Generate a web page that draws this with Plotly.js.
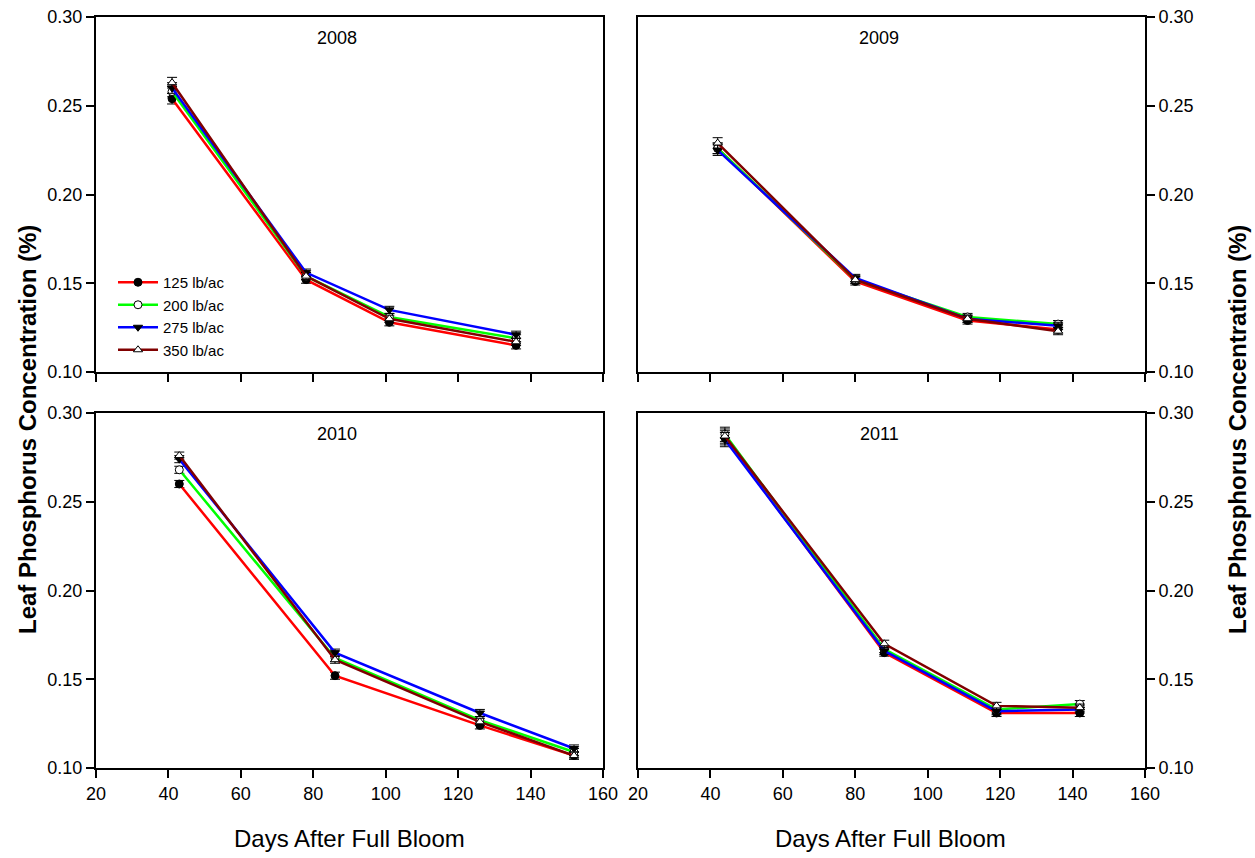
<!DOCTYPE html>
<html>
<head>
<meta charset="utf-8">
<script src="https://cdn.plot.ly/plotly-3.0.1.min.js"></script>
<style>html,body{margin:0;padding:0;background:#fff;}#chart{width:1255px;height:858px;}</style>
</head>
<body>
<div id="chart"></div>
<script>
// ---- data ----
const seriesNames = ["125 lb/ac", "200 lb/ac", "275 lb/ac", "350 lb/ac"];
const years = ["2008", "2009", "2010", "2011"];
const xTicks = [20, 40, 60, 80, 100, 120, 140, 160];
const yTicks = [0.10, 0.15, 0.20, 0.25, 0.30];

const days2008 = [41, 78, 101, 136];
const p2008_125 = [0.254, 0.152, 0.128, 0.115];
const p2008_200 = [0.258, 0.154, 0.131, 0.119];
const p2008_275 = [0.260, 0.156, 0.135, 0.121];
const p2008_350 = [0.263, 0.154, 0.130, 0.117];
const err2008 = [0.003, 0.002, 0.002, 0.002];

const days2009 = [42, 80, 111, 136];
const p2009_125 = [0.226, 0.151, 0.129, 0.124];
const p2009_200 = [0.226, 0.152, 0.131, 0.127];
const p2009_275 = [0.225, 0.153, 0.130, 0.126];
const p2009_350 = [0.229, 0.152, 0.130, 0.123];
const err2009 = [0.003, 0.002, 0.002, 0.002];

const days2010 = [43, 86, 126, 152];
const p2010_125 = [0.260, 0.152, 0.124, 0.107];
const p2010_200 = [0.268, 0.162, 0.127, 0.109];
const p2010_275 = [0.274, 0.165, 0.131, 0.111];
const p2010_350 = [0.276, 0.161, 0.126, 0.107];
const err2010 = [0.002, 0.002, 0.002, 0.002];

const days2011 = [44, 88, 119, 142];
const p2011_125 = [0.286, 0.165, 0.131, 0.131];
const p2011_200 = [0.288, 0.167, 0.133, 0.136];
const p2011_275 = [0.285, 0.166, 0.132, 0.133];
const p2011_350 = [0.287, 0.170, 0.135, 0.134];
const err2011 = [0.004, 0.002, 0.002, 0.002];

// ---- styles ----
const lineColors = ["#ff0000", "#00ff00", "#0000ff", "#800000"];
const markerSyms = ["circle", "circle", "triangle-down", "triangle-up"];
const markerFill = ["#000000", "#ffffff", "#000000", "#ffffff"];

const panels = [
  {days: days2008, vals: [p2008_125, p2008_200, p2008_275, p2008_350], err: err2008, xa: "x", ya: "y"},
  {days: days2009, vals: [p2009_125, p2009_200, p2009_275, p2009_350], err: err2009, xa: "x2", ya: "y2"},
  {days: days2010, vals: [p2010_125, p2010_200, p2010_275, p2010_350], err: err2010, xa: "x3", ya: "y3"},
  {days: days2011, vals: [p2011_125, p2011_200, p2011_275, p2011_350], err: err2011, xa: "x4", ya: "y4"}
];

const FONT = "Arial, 'Liberation Sans', sans-serif";
const traces = [];
panels.forEach((p, pi) => {
  p.vals.forEach((v, si) => {
    traces.push({
      type: "scatter", mode: "lines+markers",
      x: p.days, y: v, xaxis: p.xa, yaxis: p.ya,
      name: seriesNames[si], showlegend: pi === 0, legendgroup: seriesNames[si],
      line: {color: lineColors[si], width: 2.5},
      marker: {symbol: markerSyms[si], size: 8, color: markerFill[si], line: {color: "#000", width: 1}},
      error_y: {type: "data", array: p.err, visible: true, color: "#000", thickness: 1, width: 5},
      cliponaxis: false
    });
  });
});

const axisFont = {family: FONT, size: 18, color: "#000"};
function xAxis(domain, anchor, showLabels) {
  return {domain: domain, anchor: anchor, range: [20, 160], tickvals: xTicks,
    showticklabels: showLabels, ticks: "outside", ticklen: 8, tickwidth: 2, tickcolor: "#000",
    showline: true, linecolor: "#000", linewidth: 2, mirror: true, showgrid: false, zeroline: false,
    tickfont: axisFont, fixedrange: true};
}
function yAxis(domain, anchor, side) {
  return {domain: domain, anchor: anchor, side: side, range: [0.10, 0.30], tickvals: yTicks,
    tickformat: ".2f", ticks: "outside", ticklen: 8, tickwidth: 2, tickcolor: "#000",
    showline: true, linecolor: "#000", linewidth: 2, mirror: true, showgrid: false, zeroline: false,
    tickfont: axisFont, fixedrange: true};
}

const W = 1255, H = 858;
const xL = [96 / W, 603 / W], xR = [638 / W, 1145 / W];
const yT = [1 - 372 / H, 1 - 17 / H], yB = [1 - 768 / H, 1 - 413 / H];

function note(text, px, py, size, extra) {
  return Object.assign({text: text, x: px / W, y: 1 - py / H, xref: "paper", yref: "paper",
    xanchor: "center", yanchor: "middle", showarrow: false, font: {size: size, family: FONT, color: "#000"}}, extra || {});
}

const layout = {
  width: W, height: H, margin: {l: 0, r: 0, t: 0, b: 0},
  paper_bgcolor: "#fff", plot_bgcolor: "#fff",
  font: {family: FONT, color: "#000"},
  xaxis: xAxis(xL, "y", false), yaxis: yAxis(yT, "x", "left"),
  xaxis2: xAxis(xR, "y2", false), yaxis2: yAxis(yT, "x2", "right"),
  xaxis3: xAxis(xL, "y3", true), yaxis3: yAxis(yB, "x3", "left"),
  xaxis4: xAxis(xR, "y4", true), yaxis4: yAxis(yB, "x4", "right"),
  showlegend: true,
  legend: {x: 113 / W, y: 1 - 266 / H, xanchor: "left", yanchor: "top", bgcolor: "rgba(0,0,0,0)",
           font: {size: 15, family: FONT, color: "#000"}, tracegroupgap: 0, itemwidth: 40},
  annotations: [
    note(years[0], 337, 38, 18),
    note(years[1], 879, 38, 18),
    note(years[2], 337, 434, 18),
    note(years[3], 879, 434, 18),
    note("<b>Leaf Phosphorus Concentration (%)</b>", 27, 430, 24, {textangle: -90}),
    note("<b>Leaf Phosphorus Concentration (%)</b>", 1237, 430, 24, {textangle: -90}),
    note("Days After Full Bloom", 349, 838, 24),
    note("Days After Full Bloom", 891, 838, 24)
  ]
};

Plotly.newPlot("chart", traces, layout, {displayModeBar: false, staticPlot: true});
</script>
</body>
</html>
